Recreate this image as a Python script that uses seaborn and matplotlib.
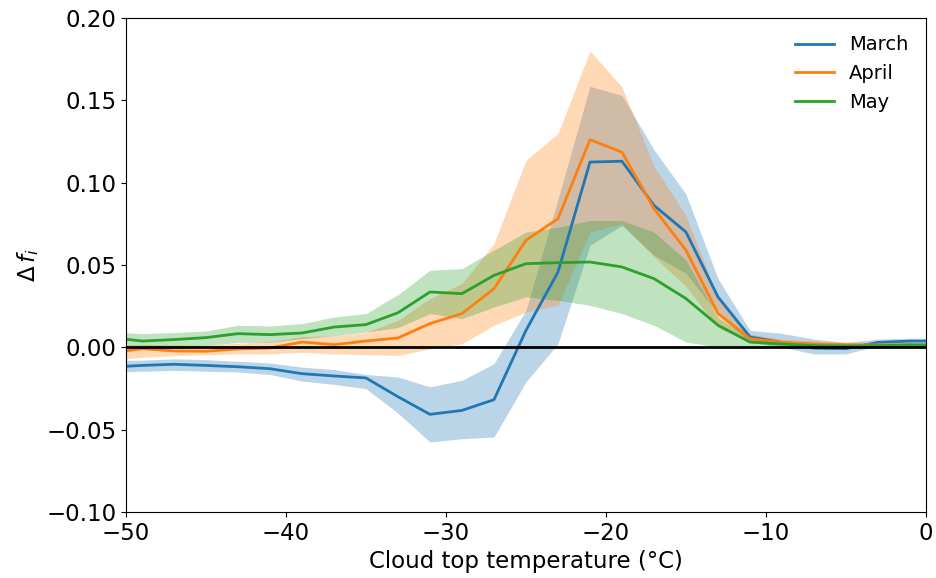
import numpy as np
import pandas as pd
import seaborn as sns
import matplotlib
matplotlib.use("Agg")
import matplotlib.pyplot as plt

temps = [-51, -49, -47, -45, -43, -41, -39, -37, -35, -33, -31, -29, -27, -25,
         -23, -21, -19, -17, -15, -13, -11, -9, -7, -5, -3, -1, 1]

march = [-0.0120, -0.0110, -0.0103, -0.0110, -0.0118, -0.0130, -0.0160, -0.0174, -0.0186,
         -0.0300, -0.0407, -0.0383, -0.0318, 0.0103, 0.0457, 0.1125, 0.1130, 0.0862,
         0.0700, 0.0306, 0.0063, 0.0030, -0.0005, -0.0008, 0.0030, 0.0038, 0.0038]
march_lo = [-0.0150, -0.0145, -0.0140, -0.0145, -0.0150, -0.0165, -0.0205, -0.0225, -0.0251,
            -0.0400, -0.0575, -0.0555, -0.0545, -0.0210, 0.0022, 0.0620, 0.0740, 0.0560,
            0.0450, 0.0200, 0.0030, 0.0000, -0.0040, -0.0040, 0.0010, 0.0020, 0.0020]
march_hi = [-0.0080, -0.0078, -0.0070, -0.0075, -0.0085, -0.0095, -0.0120, -0.0135, -0.0165,
            -0.0180, -0.0240, -0.0200, -0.0099, 0.0225, 0.0900, 0.1585, 0.1530, 0.1200,
            0.0930, 0.0417, 0.0103, 0.0085, 0.0050, 0.0030, 0.0050, 0.0055, 0.0055]

april = [-0.0036, -0.0008, -0.0022, -0.0024, -0.0010, -0.0004, 0.0032, 0.0016, 0.0038,
         0.0057, 0.0144, 0.0205, 0.0356, 0.0650, 0.0781, 0.1261, 0.1185, 0.0842,
         0.0590, 0.0205, 0.0053, 0.0030, 0.0020, 0.0015, 0.0015, 0.0015, 0.0005]
april_lo = [-0.0080, -0.0060, -0.0050, -0.0045, -0.0040, -0.0040, -0.0030, -0.0040, -0.0045,
            -0.0049, -0.0010, 0.0022, 0.0134, 0.0214, 0.0255, 0.0700, 0.0750, 0.0550,
            0.0370, 0.0120, 0.0030, 0.0015, 0.0010, 0.0005, 0.0005, 0.0005, 0.0000]
april_hi = [0.0010, 0.0018, 0.0015, 0.0012, 0.0025, 0.0035, 0.0065, 0.0070, 0.0090,
            0.0164, 0.0296, 0.0387, 0.0630, 0.1136, 0.1298, 0.1800, 0.1580, 0.1100,
            0.0800, 0.0300, 0.0080, 0.0050, 0.0040, 0.0030, 0.0025, 0.0025, 0.0020]

may = [0.0060, 0.0038, 0.0047, 0.0059, 0.0083, 0.0077, 0.0087, 0.0123, 0.0138,
       0.0210, 0.0336, 0.0326, 0.0437, 0.0508, 0.0514, 0.0518, 0.0488, 0.0417,
       0.0296, 0.0134, 0.0032, 0.0020, 0.0010, 0.0008, 0.0010, 0.0015, 0.0015]
may_lo = [0.0010, 0.0002, 0.0005, 0.0010, 0.0030, 0.0030, 0.0053, 0.0070, 0.0093,
          0.0120, 0.0205, 0.0174, 0.0245, 0.0306, 0.0285, 0.0255, 0.0205, 0.0134,
          0.0032, 0.0002, 0.0010, 0.0005, 0.0000, 0.0000, 0.0005, 0.0010, 0.0010]
may_hi = [0.0095, 0.0083, 0.0090, 0.0099, 0.0134, 0.0130, 0.0144, 0.0184, 0.0205,
          0.0320, 0.0468, 0.0478, 0.0590, 0.0700, 0.0730, 0.0770, 0.0770, 0.0700,
          0.0530, 0.0180, 0.0060, 0.0040, 0.0030, 0.0025, 0.0020, 0.0025, 0.0025]

months = ["March", "April", "May"]
series = {"March": (march, march_lo, march_hi),
          "April": (april, april_lo, april_hi),
          "May": (may, may_lo, may_hi)}

rows = []
for m in months:
    v, lo, hi = series[m]
    for t, a, b, c in zip(temps, v, lo, hi):
        rows.append({"T": t, "df": a, "lo": b, "hi": c, "month": m})
df = pd.DataFrame(rows)

colors = sns.color_palette("tab10", 3)
plt.rcParams["font.family"] = ["DejaVu Sans"]

fig = plt.figure(figsize=(9.36, 5.78), dpi=100)
ax = fig.add_axes([0.1346, 0.1142, 0.8547, 0.8547])

for m, c in zip(months, colors):
    d = df[df.month == m]
    ax.fill_between(d["T"], d["lo"], d["hi"], color=c, alpha=0.3, linewidth=0)

sns.lineplot(data=df, x="T", y="df", hue="month", hue_order=months,
             palette=colors, linewidth=2, ax=ax, estimator=None, sort=True)

ax.axhline(0, color="black", linewidth=2)
ax.set_xlim(-50, 0)
ax.set_ylim(-0.10, 0.20)
ax.set_xticks([-50, -40, -30, -20, -10, 0])
yt = np.arange(-0.10, 0.201, 0.05)
ax.set_yticks(yt)
ax.set_yticklabels([f"{t:.2f}".replace("-", "\u2212") for t in yt])
ax.tick_params(labelsize=16.5)
ax.set_xlabel("Cloud top temperature (°C)", fontsize=16.5)
ax.set_ylabel(r"$\Delta\, f_i$", fontsize=16.5)
leg = ax.legend(frameon=False, fontsize=14, loc="upper right")
leg.set_title(None)

fig.savefig("out.png", dpi=100)
